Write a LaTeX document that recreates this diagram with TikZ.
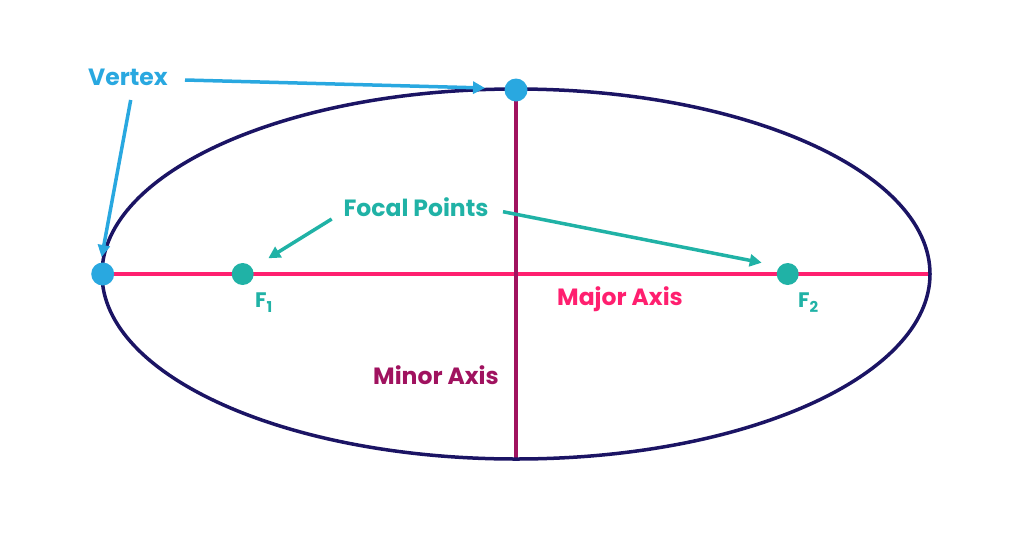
\documentclass[tikz,border=0pt]{standalone}
\usepackage{fontspec}
\setmainfont{Poppins}
\usetikzlibrary{arrows.meta}
\definecolor{navy}{HTML}{1B1464}
\definecolor{pinkax}{HTML}{FF1F6F}
\definecolor{maroon}{HTML}{A0125F}
\definecolor{skyb}{HTML}{29A8E0}
\definecolor{tealc}{HTML}{20B2A6}
\newcommand{\fsub}[1]{\raisebox{-5pt}{\fontsize{15}{15}\selectfont #1}}
\tikzset{
  lbl/.style={font=\fontsize{23.5}{26}\selectfont\bfseries, inner sep=0pt},
  flbl/.style={font=\fontsize{21}{22}\selectfont\bfseries, inner sep=0pt, text=tealc},
  vdot/.style={circle, fill=skyb, minimum size=23pt, inner sep=0pt},
  fdot/.style={circle, fill=tealc, minimum size=22pt, inner sep=0pt},
  arr/.style={line width=3.5pt, -{Triangle[length=12pt,width=12pt]}},
}
\begin{document}
\begin{tikzpicture}[x=1pt,y=-1pt]
\useasboundingbox (0,0) rectangle (1024,536);
% axes
\coordinate (L) at (102.7,274);
\coordinate (R) at (930,274);
\coordinate (T) at (516,90);
\coordinate (B) at (516,459);
\draw[pinkax, line width=3.5pt] (L) -- (R);
\draw[maroon, line width=3.5pt] (T) -- (B);
\draw[navy, line width=3.5pt] (516,274) ellipse [x radius=414, y radius=185];
% dots
\node[vdot] (vl) at (L) {};
\node[vdot] (vt) at (T) {};
\node[fdot] (f1) at (242.7,274) {};
\node[fdot] (f2) at (787.7,274) {};
% labels
\node[lbl, text=skyb] (vertex) at (128,77) {Vertex};
\node[lbl, text=tealc] (focal) at (416,207) {Focal Points};
\node[lbl, text=pinkax] (major) at (620,299.5) {Major Axis};
\node[lbl, text=maroon] (minor) at (436,375) {Minor Axis};
\node[flbl, anchor=base west] (F1) at (255,307) {F\fsub{1}};
\node[flbl, anchor=base west] (F2) at (798,307) {F\fsub{2}};
% arrows
\coordinate (a1s) at (185,80);
\coordinate (a1e) at (485,88);
\coordinate (a2s) at (130.7,100);
\coordinate (a2e) at (101.7,257);
\coordinate (a3s) at (331.7,219);
\coordinate (a3e) at (268.3,258.3);
\coordinate (a4s) at (503,211.7);
\coordinate (a4e) at (761.7,262.7);
\draw[arr, skyb] (a1s) -- (a1e);
\draw[arr, skyb] (a2s) -- (a2e);
\draw[arr, tealc] (a3s) -- (a3e);
\draw[arr, tealc] (a4s) -- (a4e);
\end{tikzpicture}
\end{document}
